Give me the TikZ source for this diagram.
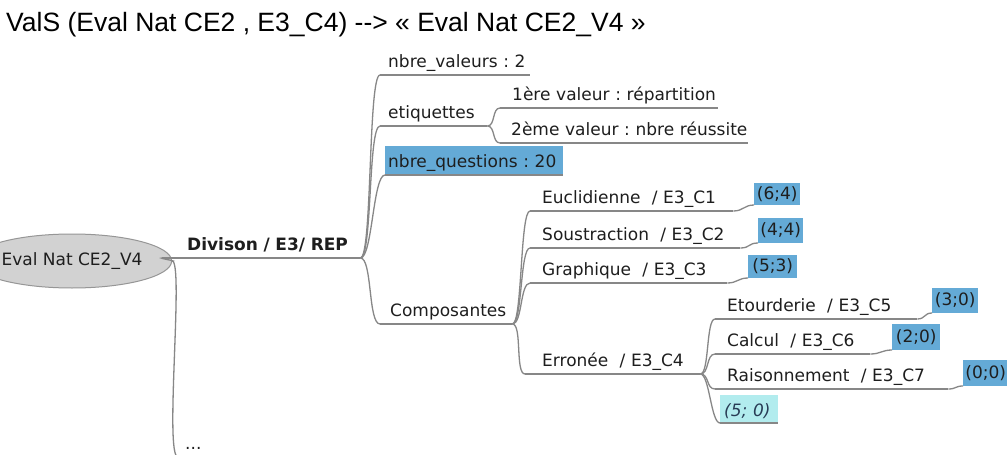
\documentclass[tikz,border=0pt]{standalone}
\usepackage{fontspec}
\newfontfamily\mmf{DejaVu Sans}
\newfontfamily\ttlf{Liberation Sans}
\definecolor{linec}{RGB}{135,135,135}
\definecolor{txtc}{RGB}{30,30,30}
\definecolor{boxblue}{RGB}{100,170,214}
\definecolor{boxcyan}{RGB}{178,236,238}
\definecolor{rootfill}{RGB}{210,210,210}
\definecolor{rootline}{RGB}{150,150,150}
\definecolor{itc}{RGB}{40,60,85}
\newcommand\mmtxt[2]{\mbox{\hspace*{#1pt}#2}}
\tikzset{
  ln/.style={draw=linec, line width=1.3pt},
  mmfont/.style={font=\mmf\fontsize{17}{20}\selectfont\frenchspacing},
  mm/.style={mmfont, anchor=south west, inner xsep=0pt, inner ysep=0pt,
    text height=13pt, text depth=7pt, text=txtc, align=left,
    append after command={(\tikzlastnode.south west) edge[ln] (\tikzlastnode.south east)}},
  box/.style={mmfont, anchor=south west, fill=boxblue, inner sep=0pt, text=txtc},
  root/.style={mmfont, ellipse, draw=rootline, line width=1pt, fill=rootfill,
    minimum width=168pt, minimum height=54pt, inner sep=0pt, text=txtc},
}
\usetikzlibrary{shapes.geometric}
\begin{document}
\begin{tikzpicture}[x=1pt,y=-1pt]
\useasboundingbox (0,0) rectangle (1007,455);
\fill[white] (0,0) rectangle (1007,455);
% title
\node[anchor=base west, inner sep=0pt, font=\ttlf\fontsize{26.5}{30}\selectfont, text=black]
  (title) at (6,31) {ValS (Eval Nat CE2 , E3\_C4) -{}-> « Eval Nat CE2\_V4 »};
% root
\node[root] (root) at (72,261) {Eval Nat CE2\_V4};
% level 1
\node[mm, text width=198pt, font=\mmf\bfseries\fontsize{17}{20}\selectfont] (div) at (162,258) {\mmtxt{25}{Divison / E3/ REP}};
\node[mm, text width=40pt] (dots) at (178,457) {\mmtxt{7}{...}};
% level 2
\node[mm, text width=150pt] (nv) at (380,75) {\mmtxt{8}{nbre\_valeurs : 2}};
\node[mm, text width=107pt] (et) at (380,126) {\mmtxt{8}{etiquettes}};
\node[mm, text width=178pt, text height=22pt, fill=boxblue] (nq) at (385,175) {\mmtxt{3}{nbre\_questions : 20}};
\node[mm, text width=132pt] (co) at (380,324) {\mmtxt{10}{Composantes}};
% etiquettes children
\node[mm, text width=218pt] (e1) at (500,108) {\mmtxt{12}{1ère valeur : répartition}};
\node[mm, text width=248pt] (e2) at (500,143) {\mmtxt{11}{2ème valeur : nbre réussite}};
% composantes children
\node[mm, text width=203pt] (eu) at (530,211) {\mmtxt{12}{Euclidienne~ / E3\_C1}};
\node[mm, text width=210pt] (so) at (530,248) {\mmtxt{12}{Soustraction~ / E3\_C2}};
\node[mm, text width=197pt] (gr) at (530,283) {\mmtxt{12}{Graphique~ / E3\_C3}};
\node[mm, text width=175pt] (er) at (525,374) {\mmtxt{17}{Erronée~ / E3\_C4}};
% value boxes
\node[box, minimum width=46pt, minimum height=22pt] (b1) at (754,205) {(6;4)};
\node[box, minimum width=45pt, minimum height=25pt] (b2) at (758,243) {(4;4)};
\node[box, minimum width=49pt, minimum height=23pt] (b3) at (748,278) {(5;3)};
% erronee children
\node[mm, text width=202pt] (etd) at (715,319) {\mmtxt{12}{Etourderie~ / E3\_C5}};
\node[mm, text width=155pt] (cal) at (715,354) {\mmtxt{12}{Calcul~ / E3\_C6}};
\node[mm, text width=233pt] (rai) at (715,389) {\mmtxt{12}{Raisonnement~ / E3\_C7}};
\node[mm, text width=58pt, text height=22pt, text depth=6pt, fill=boxcyan, text=itc,
  font=\mmf\itshape\fontsize{17}{20}\selectfont\frenchspacing] (f50) at (720,423) {\mmtxt{4}{(5; 0)}};
\node[box, minimum width=46pt, minimum height=25pt] (b4) at (932,313) {(3;0)};
\node[box, minimum width=48pt, minimum height=26pt] (b5) at (892,350) {(2;0)};
\node[box, minimum width=45pt, minimum height=26pt] (b6) at (963,386) {(0;0)};
% connectors
\draw[ln] (root.east) .. controls +(4,0) and +(-4,0) .. (div.south west);
\draw[ln] (root.east) .. controls +(12,0) and +(-14,0) .. (dots.south west);
\foreach \c in {nv,et,nq,co}
  \draw[ln] (div.south east) .. controls +(12,0) and +(-12,0) .. (\c.south west);
\foreach \c in {e1,e2}
  \draw[ln] (et.south east) .. controls +(8,0) and +(-8,0) .. (\c.south west);
\foreach \c in {eu,so,gr,er}
  \draw[ln] (co.south east) .. controls +(10,0) and +(-10,0) .. (\c.south west);
\foreach \c in {etd,cal,rai,f50}
  \draw[ln] (er.south east) .. controls +(9,0) and +(-9,0) .. (\c.south west);
\draw[ln] (eu.south east) .. controls +(10,0) and +(-10,0) .. (b1.south west);
\draw[ln] (so.south east) .. controls +(10,0) and +(-10,0) .. (b2.south west);
\draw[ln] (gr.south east) .. controls +(10,0) and +(-10,0) .. (b3.south west);
\draw[ln] (etd.south east) .. controls +(8,0) and +(-8,0) .. (b4.south west);
\draw[ln] (cal.south east) .. controls +(10,0) and +(-10,0) .. (b5.south west);
\draw[ln] (rai.south east) .. controls +(8,0) and +(-8,0) .. (b6.south west);
\end{tikzpicture}
\end{document}
